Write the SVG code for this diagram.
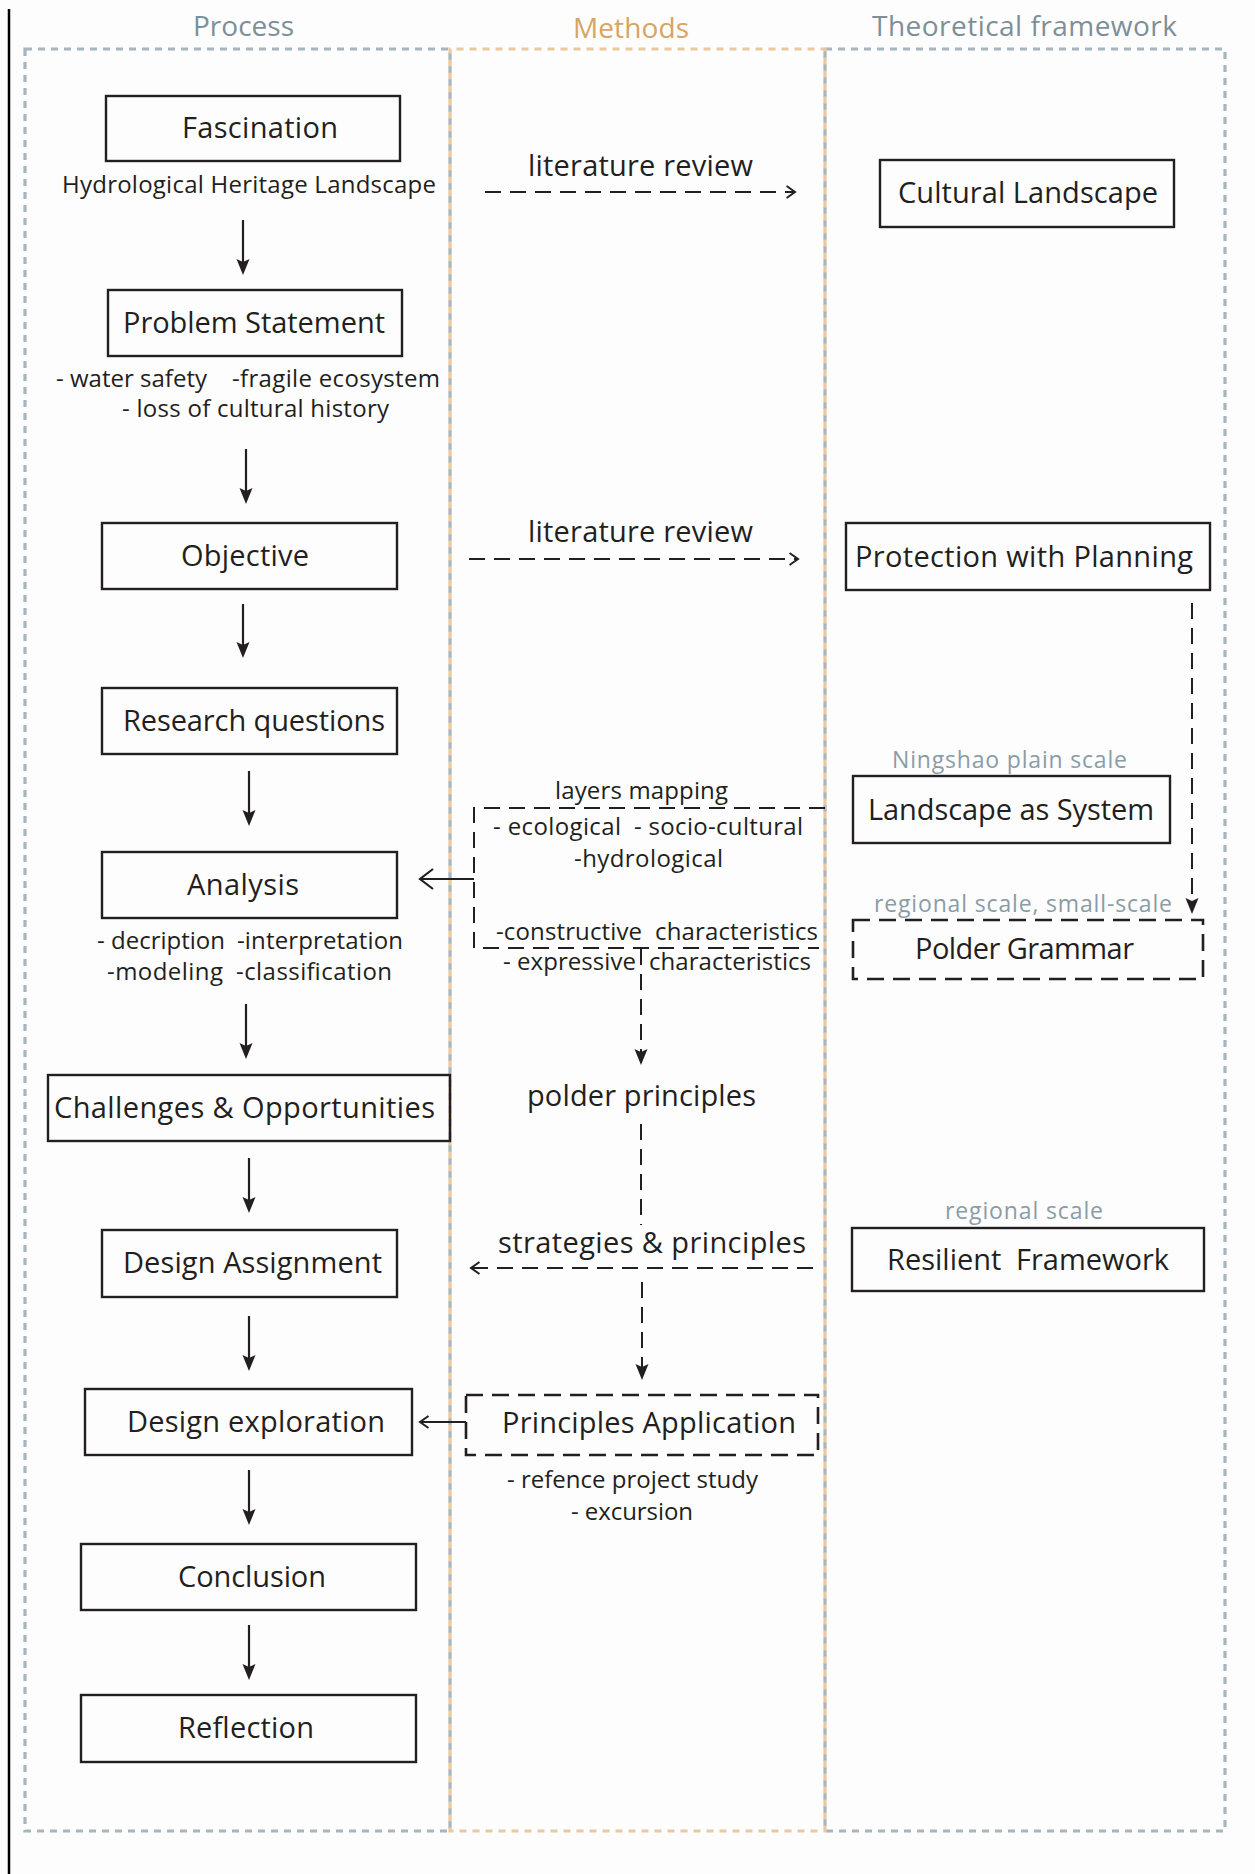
<svg xmlns="http://www.w3.org/2000/svg" width="1255" height="1874" viewBox="0 0 1255 1874">
<style>
.box{fill:none;stroke:#231f20;stroke-width:2.4}
.dbox{fill:none;stroke:#231f20;stroke-width:2.6;stroke-dasharray:17 9}
text{font-family:"Open Sans","Liberation Sans",sans-serif;fill:#231f20}
.lbl{font-size:29px}
.sub{font-size:24px}
.gray{font-size:23px;fill:#8a9ca6}
.hdr{font-size:28px}
.arr{stroke:#231f20;stroke-width:2.2;fill:none;marker-end:url(#ah)}
.dl{stroke:#231f20;stroke-width:2;fill:none;stroke-dasharray:16 9}
.sl{stroke:#231f20;stroke-width:2;fill:none}
.gframe{fill:none;stroke:#a6b5be;stroke-width:3.2;stroke-dasharray:7 6}
.oframe{fill:none;stroke:#eac9a0;stroke-width:3.2;stroke-dasharray:7 6;stroke-dashoffset:6.5}
</style>
<defs>
<marker id="ah" markerWidth="17" markerHeight="14" refX="11" refY="7" orient="auto" markerUnits="userSpaceOnUse"><path d="M0,0.5 L16,7 L0,13.5 L3,7 z" fill="#231f20"/></marker>
<marker id="chL" markerWidth="16" markerHeight="24" refX="14" refY="11" orient="auto" markerUnits="userSpaceOnUse"><path d="M1,1 L14,11 L1,21" fill="none" stroke="#231f20" stroke-width="2.2" stroke-dasharray="none"/></marker>
<marker id="chS" markerWidth="12" markerHeight="16" refX="9.5" refY="7" orient="auto" markerUnits="userSpaceOnUse"><path d="M1,1 L9.5,7 L1,13" fill="none" stroke="#231f20" stroke-width="2" stroke-dasharray="none"/></marker>
</defs>
<rect x="0" y="0" width="1255" height="1874" fill="#fdfdfd"/>

<g id="frames">
<line x1="9" y1="9" x2="9" y2="1874" stroke="#000" stroke-width="2.5"/>
<rect class="gframe" x="25" y="49" width="425" height="1782"/>
<rect class="gframe" x="825" y="49" width="400" height="1782"/>
<rect class="oframe" x="450" y="49" width="375" height="1782"/>
</g>

<g id="headers">
<text class="hdr" x="193" y="36" textLength="101" lengthAdjust="spacing" style="fill:#7d8f98">Process</text>
<text class="hdr" x="573" y="38" textLength="116" lengthAdjust="spacing" style="fill:#d8a462">Methods</text>
<text class="hdr" x="872" y="36" textLength="305" lengthAdjust="spacing" style="fill:#7d8f98">Theoretical framework</text>
</g>

<g id="n-fascination">
<rect class="box" x="106" y="96" width="294" height="65"/>
<text class="lbl" x="182" y="138" textLength="156" lengthAdjust="spacing">Fascination</text>
<text class="sub" x="62" y="193" textLength="374" lengthAdjust="spacing">Hydrological Heritage Landscape</text>
</g>
<g id="n-problem">
<rect class="box" x="108" y="290" width="294" height="66"/>
<text class="lbl" x="123" y="333" textLength="262" lengthAdjust="spacing">Problem Statement</text>
<text class="sub" y="387"><tspan x="56" textLength="151" lengthAdjust="spacing">- water safety</tspan> <tspan x="232" textLength="208" lengthAdjust="spacing">-fragile ecosystem</tspan></text>
<text class="sub" x="122" y="417" textLength="267" lengthAdjust="spacing">- loss of cultural history</text>
</g>
<g id="n-objective">
<rect class="box" x="102" y="523" width="295" height="66"/>
<text class="lbl" x="181" y="566" textLength="128" lengthAdjust="spacing">Objective</text>
</g>
<g id="n-research">
<rect class="box" x="102" y="688" width="295" height="66"/>
<text class="lbl" x="123" y="731" textLength="262" lengthAdjust="spacing">Research questions</text>
</g>
<g id="n-analysis">
<rect class="box" x="102" y="852" width="295" height="66"/>
<text class="lbl" x="187" y="895" textLength="112" lengthAdjust="spacing">Analysis</text>
<text class="sub" y="949"><tspan x="97" textLength="128" lengthAdjust="spacing">- decription</tspan> <tspan x="237" textLength="166" lengthAdjust="spacing">-interpretation</tspan></text>
<text class="sub" y="980"><tspan x="107" textLength="116" lengthAdjust="spacing">-modeling</tspan> <tspan x="236" textLength="156" lengthAdjust="spacing">-classification</tspan></text>
</g>
<g id="n-challenges">
<rect class="box" x="48" y="1075" width="402" height="66"/>
<text class="lbl" x="54" y="1118" textLength="381" lengthAdjust="spacing">Challenges &amp; Opportunities</text>
</g>
<g id="n-assignment">
<rect class="box" x="102" y="1230" width="295" height="67"/>
<text class="lbl" x="123" y="1273" textLength="259" lengthAdjust="spacing">Design Assignment</text>
</g>
<g id="n-exploration">
<rect class="box" x="85" y="1389" width="327" height="66"/>
<text class="lbl" x="127" y="1432" textLength="258" lengthAdjust="spacing">Design exploration</text>
</g>
<g id="n-conclusion">
<rect class="box" x="81" y="1544" width="335" height="66"/>
<text class="lbl" x="178" y="1587" textLength="148" lengthAdjust="spacing">Conclusion</text>
</g>
<g id="n-reflection">
<rect class="box" x="81" y="1695" width="335" height="67"/>
<text class="lbl" x="178" y="1738" textLength="136" lengthAdjust="spacing">Reflection</text>
</g>

<g id="m-litreview1">
<text class="lbl" x="528" y="176" textLength="225" lengthAdjust="spacing">literature review</text>
</g>
<g id="m-litreview2">
<text class="lbl" x="528" y="542" textLength="225" lengthAdjust="spacing">literature review</text>
</g>
<g id="m-layers">
<text class="sub" x="555" y="799" textLength="173" lengthAdjust="spacing">layers mapping</text>
<text class="sub" y="835"><tspan x="493" textLength="128" lengthAdjust="spacing">- ecological</tspan> <tspan x="634" textLength="169" lengthAdjust="spacing">- socio-cultural</tspan></text>
<text class="sub" x="574" y="867" textLength="149" lengthAdjust="spacing">-hydrological</text>
<text class="sub" y="940"><tspan x="496" textLength="146" lengthAdjust="spacing">-constructive</tspan> <tspan x="655" textLength="163" lengthAdjust="spacing">characteristics</tspan></text>
<text class="sub" y="970"><tspan x="503" textLength="133" lengthAdjust="spacing">- expressive</tspan> <tspan x="649" textLength="162" lengthAdjust="spacing">characteristics</tspan></text>
</g>
<g id="m-polder-principles">
<text class="lbl" x="527" y="1106" textLength="229" lengthAdjust="spacing">polder principles</text>
</g>
<g id="m-strategies">
<text class="lbl" x="498" y="1253" textLength="308" lengthAdjust="spacing">strategies &amp; principles</text>
</g>
<g id="m-application">
<rect class="dbox" x="466" y="1395" width="352" height="60"/>
<text class="lbl" x="502" y="1433" textLength="294" lengthAdjust="spacing">Principles Application</text>
<text class="sub" x="507" y="1488" textLength="251" lengthAdjust="spacing">- refence project study</text>
<text class="sub" x="571" y="1520" textLength="122" lengthAdjust="spacing">- excursion</text>
</g>

<g id="t-cultural">
<rect class="box" x="880" y="160" width="294" height="67"/>
<text class="lbl" x="898" y="203" textLength="260" lengthAdjust="spacing">Cultural Landscape</text>
</g>
<g id="t-protection">
<rect class="box" x="846" y="523" width="364" height="67"/>
<text class="lbl" x="855" y="567" textLength="338" lengthAdjust="spacing">Protection with Planning</text>
</g>
<g id="t-system">
<text class="gray" x="892" y="768" textLength="235" lengthAdjust="spacing">Ningshao plain scale</text>
<rect class="box" x="853" y="776" width="317" height="67"/>
<text class="lbl" x="868" y="820" textLength="286" lengthAdjust="spacing">Landscape as System</text>
</g>
<g id="t-grammar">
<text class="gray" x="874" y="912" textLength="298" lengthAdjust="spacing">regional scale, small-scale</text>
<rect class="dbox" x="853" y="920" width="350" height="59"/>
<text class="lbl" x="915" y="959" textLength="219" lengthAdjust="spacing">Polder Grammar</text>
</g>
<g id="t-resilient">
<text class="gray" x="945" y="1219" textLength="158" lengthAdjust="spacing">regional scale</text>
<rect class="box" x="852" y="1228" width="352" height="63"/>
<text class="lbl" y="1270"><tspan x="887">Resilient</tspan> <tspan x="1016">Framework</tspan></text>
</g>

<g id="connectors">
<line class="arr" x1="243" y1="220" x2="243" y2="270"/>
<line class="arr" x1="246" y1="449" x2="246" y2="499"/>
<line class="arr" x1="243" y1="604" x2="243" y2="653"/>
<line class="arr" x1="249" y1="771" x2="249" y2="821"/>
<line class="arr" x1="246" y1="1004" x2="246" y2="1054"/>
<line class="arr" x1="249" y1="1158" x2="249" y2="1208"/>
<line class="arr" x1="249" y1="1316" x2="249" y2="1366"/>
<line class="arr" x1="249" y1="1470" x2="249" y2="1520"/>
<line class="arr" x1="249" y1="1625" x2="249" y2="1675"/>

<line class="dl" x1="485" y1="192" x2="795" y2="192" marker-end="url(#chS)"/>
<line class="dl" x1="469" y1="559" x2="798" y2="559" marker-end="url(#chS)"/>
<path class="dl" d="M825,808 H474 V948 H819"/>
<line class="sl" x1="474" y1="879" x2="420" y2="879" marker-end="url(#chL)"/>
<line class="dl" x1="641" y1="949" x2="641" y2="1060" marker-end="url(#ah)"/>
<line class="dl" x1="641" y1="1124" x2="641" y2="1225"/>
<line class="dl" x1="813" y1="1268" x2="471" y2="1268" marker-end="url(#chS)"/>
<line class="dl" x1="642" y1="1282" x2="642" y2="1375" marker-end="url(#ah)"/>
<line class="sl" x1="466" y1="1422" x2="420" y2="1422" marker-end="url(#chS)"/>
<line class="dl" x1="1192" y1="603" x2="1192" y2="909" marker-end="url(#ah)"/>
</g>
</svg>
